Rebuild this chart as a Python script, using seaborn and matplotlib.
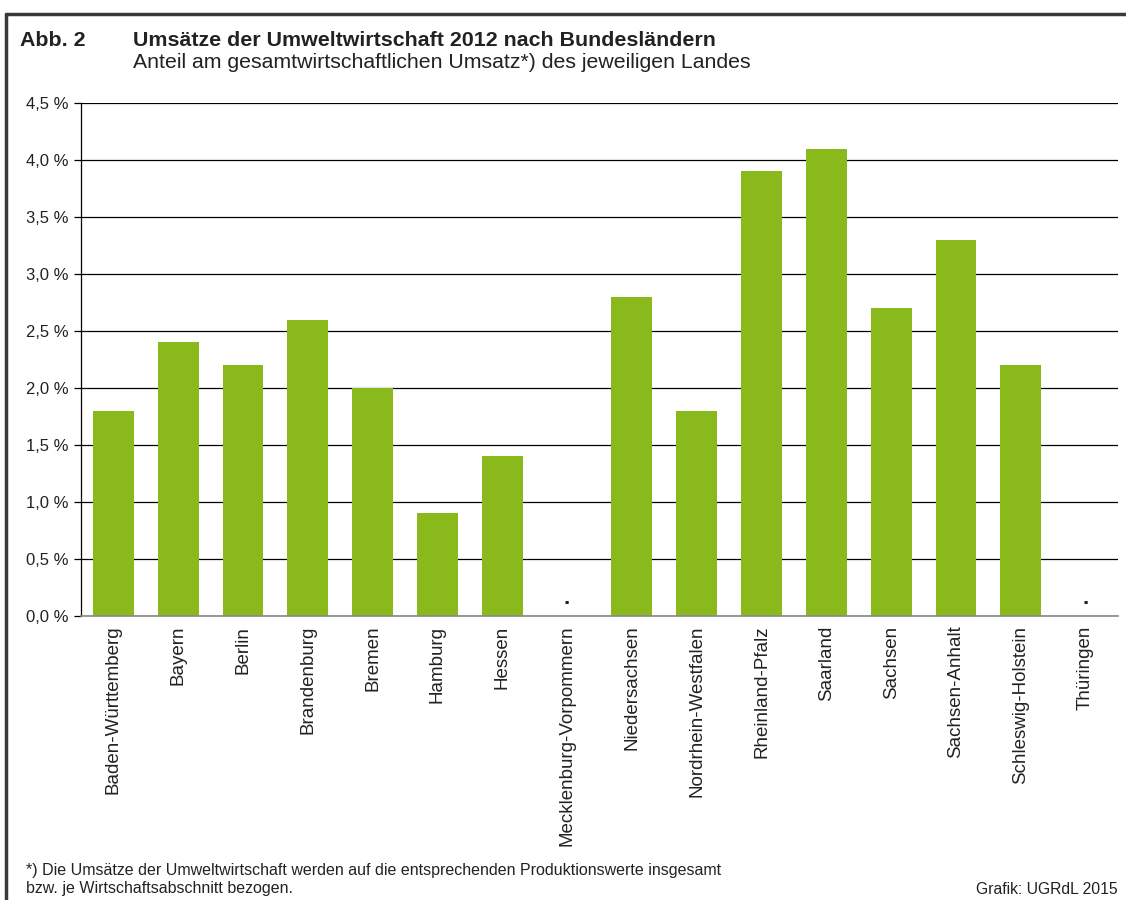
import matplotlib
matplotlib.use('Agg')
import matplotlib.pyplot as plt
from matplotlib.lines import Line2D
import seaborn as sns
import pandas as pd
import numpy as np

laender = ['Baden-Württemberg', 'Bayern', 'Berlin', 'Brandenburg', 'Bremen', 'Hamburg',
           'Hessen', 'Mecklenburg-Vorpommern', 'Niedersachsen', 'Nordrhein-Westfalen',
           'Rheinland-Pfalz', 'Saarland', 'Sachsen', 'Sachsen-Anhalt', 'Schleswig-Holstein',
           'Thüringen']
anteil = [1.8, 2.4, 2.2, 2.6, 2.0, 0.9, 1.4, np.nan, 2.8, 1.8, 3.9, 4.1, 2.7, 3.3, 2.2, np.nan]
y_ticks = [0.0, 0.5, 1.0, 1.5, 2.0, 2.5, 3.0, 3.5, 4.0, 4.5]
y_labels = ['0,0 %', '0,5 %', '1,0 %', '1,5 %', '2,0 %', '2,5 %', '3,0 %', '3,5 %', '4,0 %', '4,5 %']

sns.set_theme(style='white')
plt.rcParams['font.family'] = ['Liberation Sans', 'DejaVu Sans']

df = pd.DataFrame({'Land': laender, 'Anteil': anteil})

fig = plt.figure(figsize=(11.26, 9), dpi=100)
ax = fig.add_axes([0.0719, 0.3156, 0.9210, 0.5700])

sns.barplot(data=df, x='Land', y='Anteil', order=laender, color='#8ab91b',
            saturation=1, width=0.63, ax=ax, errorbar=None, linewidth=0)

# keine Angabe -> Punkt
for i, v in enumerate(anteil):
    if np.isnan(v):
        ax.text(i, 0.06, '.', ha='center', va='bottom', fontsize=16, fontweight='bold',
                color='#222222')

ax.set_ylim(0, 4.5)
ax.set_xlim(-0.5, len(laender) - 0.5)
ax.set_yticks(y_ticks)
ax.set_yticklabels(y_labels, fontsize=12, color='#222222')
ax.set_xticks(range(len(laender)))
ax.set_xticklabels(laender, rotation=90, fontsize=13.5, color='#222222')
ax.set_xlabel('')
ax.set_ylabel('')
ax.yaxis.grid(True, color='black', linewidth=0.9)
ax.set_axisbelow(True)
ax.tick_params(axis='y', length=5, width=0.9, color='black', direction='out', pad=4, left=True)
ax.tick_params(axis='x', length=0, pad=7)
for s in ['top', 'right']:
    ax.spines[s].set_visible(False)
ax.spines['left'].set_color('black')
ax.spines['left'].set_linewidth(0.9)
ax.spines['bottom'].set_color('#888888')
ax.spines['bottom'].set_linewidth(1.2)

# Rahmen
fig.add_artist(Line2D([6 / 1126, 1], [1 - 14 / 900, 1 - 14 / 900], color='#3a3a3a', linewidth=2.5))
fig.add_artist(Line2D([6 / 1126, 6 / 1126], [0, 1 - 14 / 900], color='#3a3a3a', linewidth=2.5))

fig.text(20 / 1126, 1 - 40 / 900, 'Abb. 2', fontsize=15.4, fontweight='bold', color='#222222', va='center')
fig.text(133 / 1126, 1 - 40 / 900, 'Umsätze der Umweltwirtschaft 2012 nach Bundesländern',
         fontsize=15.4, fontweight='bold', color='#222222', va='center')
fig.text(133 / 1126, 1 - 62 / 900, 'Anteil am gesamtwirtschaftlichen Umsatz*) des jeweiligen Landes',
         fontsize=15.3, color='#222222', va='center')

fig.text(26 / 1126, 1 - 871 / 900,
         '*) Die Umsätze der Umweltwirtschaft werden auf die entsprechenden Produktionswerte insgesamt',
         fontsize=11.5, color='#222222', va='center')
fig.text(26 / 1126, 1 - 889 / 900, 'bzw. je Wirtschaftsabschnitt bezogen.',
         fontsize=11.5, color='#222222', va='center')
fig.text(1118 / 1126, 1 - 889 / 900, 'Grafik: UGRdL 2015', fontsize=11.3, color='#222222',
         va='center', ha='right')

fig.savefig('out.png', dpi=100)
